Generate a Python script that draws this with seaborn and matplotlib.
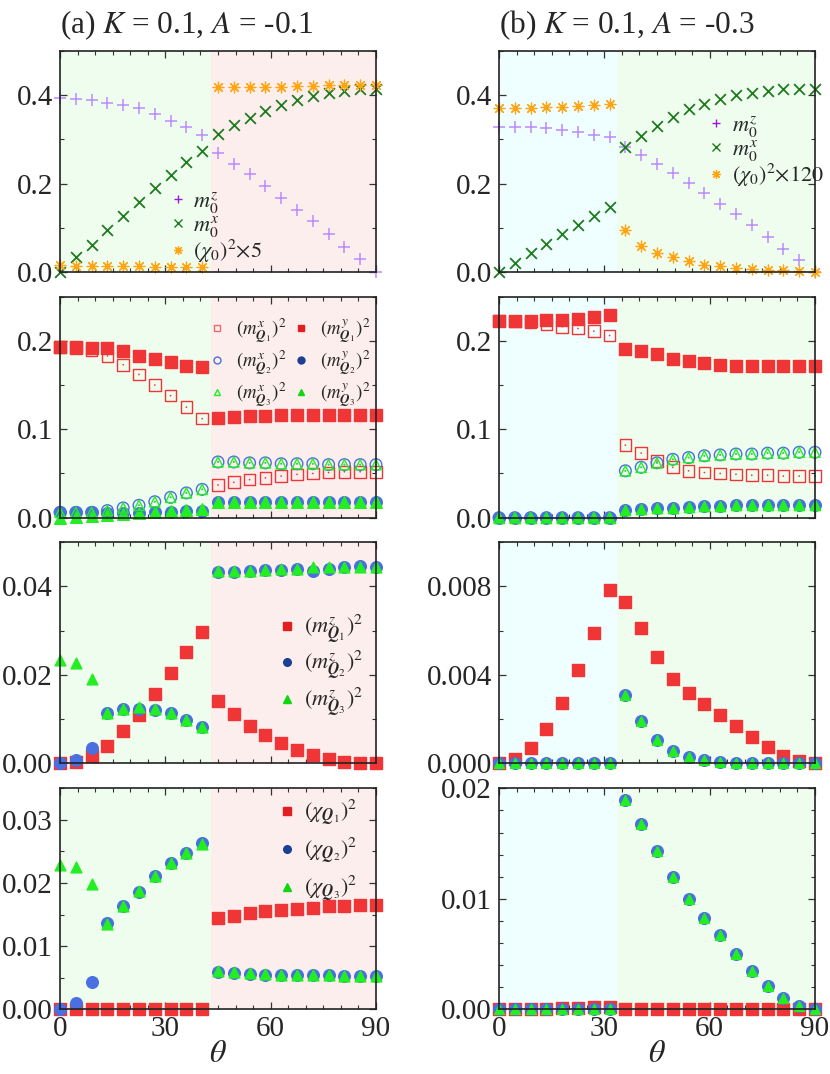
import pandas as pd
import matplotlib
matplotlib.use("Agg")
import matplotlib.pyplot as plt
import seaborn as sns
from matplotlib.lines import Line2D
from matplotlib.ticker import MultipleLocator, FormatStrFormatter

# angle grid (degrees)
theta = [0, 4.5, 9, 13.5, 18, 22.5, 27, 31.5, 36, 40.5, 45,
         49.5, 54, 58.5, 63, 67.5, 72, 76.5, 81, 85.5, 90]

# ---- panel (a): K = 0.1, A = -0.1 ----
a_m0z = [0.394, 0.391, 0.389, 0.383, 0.377, 0.370, 0.357, 0.342, 0.328, 0.309, 0.269,
         0.245, 0.221, 0.194, 0.168, 0.141, 0.115, 0.085, 0.057, 0.030, 0.0]
a_m0x = [0.0, 0.034, 0.062, 0.095, 0.127, 0.159, 0.189, 0.219, 0.248, 0.274, 0.313,
         0.332, 0.349, 0.364, 0.379, 0.389, 0.398, 0.405, 0.410, 0.413, 0.415]
a_chi0 = [0.015, 0.014, 0.014, 0.014, 0.013, 0.013, 0.012, 0.012, 0.011, 0.011, 0.419,
          0.419, 0.419, 0.419, 0.419, 0.420, 0.421, 0.423, 0.424, 0.424, 0.424]

a_mx_q1 = [0.193, 0.192, 0.189, 0.183, 0.173, 0.162, 0.150, 0.138, 0.125, 0.112, 0.037,
           0.040, 0.043, 0.045, 0.047, 0.049, 0.050, 0.051, 0.052, 0.052, 0.052]
a_my_q1 = [0.193, 0.193, 0.192, 0.192, 0.188, 0.183, 0.180, 0.176, 0.172, 0.170, 0.113,
           0.114, 0.115, 0.115, 0.116, 0.116, 0.116, 0.116, 0.116, 0.116, 0.116]
a_mx_q23 = [0.006, 0.006, 0.006, 0.008, 0.011, 0.014, 0.018, 0.023, 0.028, 0.032, 0.063,
            0.063, 0.062, 0.062, 0.061, 0.061, 0.061, 0.060, 0.060, 0.060, 0.060]
a_my_q2 = [0.006, 0.006, 0.006, 0.005, 0.005, 0.005, 0.006, 0.006, 0.007, 0.008, 0.018,
           0.018, 0.018, 0.018, 0.018, 0.018, 0.018, 0.018, 0.018, 0.018, 0.018]
a_my_q3 = [0.0, 0.0004, 0.002, 0.003, 0.004, 0.0055, 0.006, 0.0075, 0.0087, 0.0095, 0.018,
           0.018, 0.018, 0.018, 0.018, 0.018, 0.018, 0.018, 0.018, 0.018, 0.018]

a_mz_q1 = [0.0, 0.0002, 0.0017, 0.0039, 0.0072, 0.0109, 0.0156, 0.0204, 0.0251, 0.0296, 0.0140,
           0.0111, 0.0085, 0.0063, 0.0045, 0.0030, 0.0019, 0.0010, 0.0004, 0.0, 0.0]
a_mz_q2 = [0.0, 0.0008, 0.0034, 0.0113, 0.0122, 0.0122, 0.0121, 0.0113, 0.0098, 0.0082, 0.0432,
           0.0432, 0.0434, 0.0438, 0.0438, 0.0439, 0.0435, 0.0439, 0.0443, 0.0447, 0.0444]
a_mz_q3 = [0.0234, 0.0226, 0.0190, 0.0113, 0.0122, 0.0127, 0.0122, 0.0113, 0.0098, 0.0082, 0.0436,
           0.0436, 0.0436, 0.0438, 0.0439, 0.0440, 0.0445, 0.0445, 0.0445, 0.0444, 0.0444]

a_chi_q1 = [0.0, 0.0, 0.0, 0.0, 0.0, 0.0, 0.0001, 0.0001, 0.0001, 0.0001, 0.0144,
            0.0148, 0.0152, 0.0155, 0.0157, 0.0159, 0.0161, 0.0163, 0.0164, 0.0165, 0.0165]
a_chi_q2 = [0.0, 0.00095, 0.0044, 0.0136, 0.0163, 0.0186, 0.0211, 0.0231, 0.0248, 0.0263, 0.0059,
            0.0057, 0.0056, 0.0055, 0.0054, 0.0054, 0.0054, 0.0054, 0.0053, 0.0053, 0.0053]
a_chi_q3 = [0.0228, 0.0225, 0.0198, 0.0135, 0.0163, 0.0188, 0.0211, 0.0231, 0.0248, 0.0262, 0.0060,
            0.0059, 0.0057, 0.0056, 0.0055, 0.0054, 0.0054, 0.0054, 0.0053, 0.0053, 0.0053]

# ---- panel (b): K = 0.1, A = -0.3 ----
b_m0z = [0.328, 0.328, 0.327, 0.325, 0.321, 0.317, 0.311, 0.306, 0.283, 0.264, 0.245,
         0.224, 0.202, 0.179, 0.155, 0.132, 0.107, 0.079, 0.053, 0.028, 0.0]
b_m0x = [0.0, 0.021, 0.042, 0.064, 0.085, 0.106, 0.127, 0.147, 0.283, 0.307, 0.331,
         0.351, 0.368, 0.381, 0.391, 0.400, 0.405, 0.410, 0.413, 0.414, 0.415]
b_chi0 = [0.372, 0.372, 0.372, 0.374, 0.374, 0.376, 0.377, 0.380, 0.094, 0.059, 0.044,
          0.034, 0.024, 0.017, 0.013, 0.009, 0.007, 0.005, 0.004, 0.002, 0.0]

b_mx_q1 = [0.223, 0.222, 0.221, 0.219, 0.216, 0.214, 0.211, 0.206, 0.082, 0.073, 0.064,
           0.057, 0.053, 0.051, 0.050, 0.049, 0.048, 0.048, 0.047, 0.047, 0.047]
b_my_q1 = [0.223, 0.223, 0.223, 0.2235, 0.224, 0.225, 0.227, 0.229, 0.191, 0.189, 0.185,
           0.180, 0.177, 0.175, 0.173, 0.172, 0.172, 0.172, 0.171, 0.171, 0.171]
b_mx_q23 = [0.0, 0.0, 0.0, 0.0, 0.0, 0.0, 0.0, 0.0, 0.053, 0.057, 0.062,
            0.066, 0.068, 0.070, 0.071, 0.072, 0.072, 0.073, 0.073, 0.074, 0.074]
b_my_q23 = [0.0, 0.0, 0.0, 0.0, 0.0, 0.0, 0.0, 0.0, 0.0087, 0.0095, 0.0106,
            0.0114, 0.0125, 0.0133, 0.0136, 0.0140, 0.0144, 0.0144, 0.0144, 0.0148, 0.0148]

b_mz_q1 = [0.0, 0.00018, 0.00068, 0.00155, 0.00275, 0.0042, 0.0059, 0.00785, 0.0073, 0.0061, 0.0048,
           0.0038, 0.0032, 0.0027, 0.0022, 0.0017, 0.0012, 0.00075, 0.00035, 0.00012, 0.0]
b_mz_q23 = [0.0, 0.0, 0.0, 0.0, 0.0, 0.0, 0.0, 0.0, 0.0031, 0.0019, 0.00106,
            0.00057, 0.0003, 0.00015, 0.00008, 0.00003, 0.0, 0.0, 0.0, 0.0, 0.0]

b_chi_q1 = [0.0, 0.0, 0.0, 0.00003, 0.0001, 0.0001, 0.0002, 0.00025, 0.0, 0.0, 0.0,
            0.0, 0.0, 0.0, 0.0, 0.0, 0.0, 0.0, 0.0, 0.0, 0.0]
b_chi_q23 = [0.0, 0.0, 0.0, 0.0, 0.0, 0.0, 0.0, 0.0, 0.0189, 0.0168, 0.0143,
             0.0120, 0.0100, 0.0083, 0.0067, 0.0050, 0.0035, 0.0021, 0.0010, 0.0003, 0.0]

# phase boundaries (shading)
a_edge = 42.9
b_edge = 33.7

RED, RED_L = "#ef3535", "#e21e1e"
BLUE, BLUE_L = "#4a6fe0", "#1c3f94"
GREEN, GREEN_L = "#22ee22", "#10d810"
PURPLE, PURPLE_L = "#b98cff", "#9a1ad6"
DKGREEN = "#1f7a1f"
ORANGE = "#ffa514"
C_GREEN_BG, C_PINK_BG, C_CYAN_BG = "#effdef", "#fdeeee", "#effefe"

ASTER = (8, 2, 0)

sns.set_style("ticks")
plt.rcParams["font.family"] = ["Liberation Serif", "DejaVu Serif"]
plt.rcParams["mathtext.fontset"] = "stix"


def draw(ax, y, marker, color, s, hollow=False, lw=1.0, z=3):
    df = pd.DataFrame({"theta": theta, "val": y})
    if hollow:
        sns.scatterplot(data=df, x="theta", y="val", ax=ax, marker=marker, s=s, color=color,
                        facecolor="none", edgecolor=color, linewidth=lw, zorder=z,
                        clip_on=False, legend=False)
        sns.scatterplot(data=df, x="theta", y="val", ax=ax, marker="o", s=1.5, color=color,
                        edgecolor="none", linewidth=0, zorder=z, clip_on=False, legend=False)
    else:
        sns.scatterplot(data=df, x="theta", y="val", ax=ax, marker=marker, s=s, color=color,
                        edgecolor=color, linewidth=lw, zorder=z, clip_on=False, legend=False)


def handle(marker, color, ms, hollow=False, mew=1.0):
    return Line2D([], [], linestyle="none", marker=marker, markersize=ms,
                  markerfacecolor="none" if hollow else color, markeredgecolor=color,
                  markeredgewidth=mew)


def style(ax, ylim, major, minor, fmt, edge, left_bg, right_bg, bottom=False):
    ax.set_xlim(0, 90)
    ax.set_ylim(*ylim)
    ax.axvspan(0, edge, color=left_bg, zorder=0, lw=0)
    ax.axvspan(edge, 90, color=right_bg, zorder=0, lw=0)
    ax.xaxis.set_major_locator(MultipleLocator(30))
    ax.xaxis.set_minor_locator(MultipleLocator(5))
    ax.yaxis.set_major_locator(MultipleLocator(major))
    ax.yaxis.set_minor_locator(MultipleLocator(minor))
    ax.yaxis.set_major_formatter(FormatStrFormatter(fmt))
    ax.tick_params(which="both", direction="in", top=True, right=True, color="#333333")
    ax.tick_params(which="major", length=5, width=0.9, labelsize=21, pad=5)
    ax.tick_params(which="minor", length=3, width=0.8)
    ax.tick_params(axis="x", pad=5)
    ax.set_ylabel("")
    if bottom:
        ax.set_xlabel(r"$\theta$", fontsize=23, labelpad=-2)
    else:
        ax.set_xlabel("")
        ax.tick_params(axis="x", labelbottom=False)
    for sp in ax.spines.values():
        sp.set_linewidth(1.2)
        sp.set_color("#222222")
        sp.set_zorder(5)


fig = plt.figure(figsize=(8.3, 10.74), dpi=100)
lefts = [0.0723, 0.6012]
width = 0.3807
bottoms = [0.7467, 0.5180, 0.2893, 0.0602]
height = 0.2058
axs = [[fig.add_axes([l, b, width, height]) for l in lefts] for b in bottoms]

LEG = dict(frameon=False, fontsize=16, handlelength=0.8, handletextpad=0.35,
           borderpad=0, borderaxespad=0, labelspacing=0.35)
LEG1 = dict(LEG, fontsize=16, handletextpad=0.3, labelspacing=-0.05)
LEG2 = dict(LEG, fontsize=13.5, handletextpad=0.6, labelspacing=0.15, ncol=2, columnspacing=0.4)
LEG3 = dict(LEG, labelspacing=0.12)

# ---------- row 1 ----------
for ax, m0z, m0x, chi0, mult in [(axs[0][0], a_m0z, a_m0x, a_chi0, "5"),
                                 (axs[0][1], b_m0z, b_m0x, b_chi0, "120")]:
    draw(ax, m0z, "+", PURPLE, 80, lw=1.1)
    draw(ax, m0x, "x", DKGREEN, 60, lw=1.3)
    draw(ax, chi0, ASTER, ORANGE, 60, lw=0.9)
    hs = [handle("+", PURPLE_L, 6), handle("x", DKGREEN, 6), handle(ASTER, ORANGE, 6.5, mew=0.9)]
    labs = [r"$m_0^z$", r"$m_0^x$", r"$(\chi_0)^2{\times}" + mult + "$"]
    if mult == "5":
        ax.legend(hs, labs, loc="upper left", bbox_to_anchor=(0.345, 0.37), **LEG1)
    else:
        ax.legend(hs, labs, loc="upper left", bbox_to_anchor=(0.66, 0.715), **LEG1)
style(axs[0][0], (0, 0.5), 0.2, 0.1, "%.1f", a_edge, C_GREEN_BG, C_PINK_BG)
style(axs[0][1], (0, 0.5), 0.2, 0.1, "%.1f", b_edge, C_CYAN_BG, C_GREEN_BG)
axs[0][0].set_title("(a) $K$ = 0.1, $A$ = -0.1", loc="left", fontsize=22.5, pad=13)
axs[0][1].set_title("(b) $K$ = 0.1, $A$ = -0.3", loc="left", fontsize=22.5, pad=13)

# ---------- row 2 ----------
ax = axs[1][0]
draw(ax, a_my_q1, "s", RED, 70)
draw(ax, a_mx_q1, "s", RED, 70, hollow=True)
draw(ax, a_my_q2, "o", BLUE, 70)
draw(ax, a_my_q3, "^", GREEN, 70)
draw(ax, a_mx_q23, "o", BLUE, 70, hollow=True)
draw(ax, a_mx_q23, "^", GREEN, 55, hollow=True)
hs = [handle("s", "#f06a6a", 5, hollow=True), handle("o", BLUE, 5, hollow=True),
      handle("^", GREEN, 5, hollow=True),
      handle("s", RED_L, 5), handle("o", BLUE_L, 5), handle("^", GREEN_L, 5)]
labs = [r"$(m^x_{\mathbfit{Q}_1})^2$", r"$(m^x_{\mathbfit{Q}_2})^2$", r"$(m^x_{\mathbfit{Q}_3})^2$",
        r"$(m^y_{\mathbfit{Q}_1})^2$", r"$(m^y_{\mathbfit{Q}_2})^2$", r"$(m^y_{\mathbfit{Q}_3})^2$"]
ax.legend(hs, labs, loc="upper left", bbox_to_anchor=(0.473, 0.91), **LEG2)
style(ax, (0, 0.25), 0.1, 0.05, "%.1f", a_edge, C_GREEN_BG, C_PINK_BG)

ax = axs[1][1]
draw(ax, b_my_q1, "s", RED, 70)
draw(ax, b_mx_q1, "s", RED, 70, hollow=True)
draw(ax, b_my_q23, "o", BLUE, 70)
draw(ax, b_my_q23, "^", GREEN, 55)
draw(ax, b_mx_q23, "o", BLUE, 70, hollow=True)
draw(ax, b_mx_q23, "^", GREEN, 55, hollow=True)
style(ax, (0, 0.25), 0.1, 0.05, "%.1f", b_edge, C_CYAN_BG, C_GREEN_BG)

# ---------- row 3 ----------
ax = axs[2][0]
draw(ax, a_mz_q1, "s", RED, 70)
draw(ax, a_mz_q2, "o", BLUE, 70)
draw(ax, a_mz_q3, "^", GREEN, 60)
hs = [handle("s", RED_L, 5.5), handle("o", BLUE_L, 5.5), handle("^", GREEN_L, 5.5)]
labs = [r"$(m^z_{\mathbfit{Q}_1})^2$", r"$(m^z_{\mathbfit{Q}_2})^2$", r"$(m^z_{\mathbfit{Q}_3})^2$"]
ax.legend(hs, labs, loc="upper left", bbox_to_anchor=(0.69, 0.68), **LEG3)
style(ax, (0, 0.05), 0.02, 0.01, "%.2f", a_edge, C_GREEN_BG, C_PINK_BG)

ax = axs[2][1]
draw(ax, b_mz_q1, "s", RED, 70)
draw(ax, b_mz_q23, "o", BLUE, 70)
draw(ax, b_mz_q23, "^", GREEN, 50)
style(ax, (0, 0.01), 0.004, 0.002, "%.3f", b_edge, C_CYAN_BG, C_GREEN_BG)

# ---------- row 4 ----------
ax = axs[3][0]
draw(ax, a_chi_q1, "s", RED, 70)
draw(ax, a_chi_q2, "o", BLUE, 70)
draw(ax, a_chi_q3, "^", GREEN, 60)
hs = [handle("s", RED_L, 5.5), handle("o", BLUE_L, 5.5), handle("^", GREEN_L, 5.5)]
labs = [r"$(\chi_{\mathbfit{Q}_1})^2$", r"$(\chi_{\mathbfit{Q}_2})^2$", r"$(\chi_{\mathbfit{Q}_3})^2$"]
ax.legend(hs, labs, loc="upper left", bbox_to_anchor=(0.69, 0.96), **LEG)
style(ax, (0, 0.035), 0.01, 0.005, "%.2f", a_edge, C_GREEN_BG, C_PINK_BG, bottom=True)

ax = axs[3][1]
draw(ax, b_chi_q1, "s", RED, 70)
draw(ax, b_chi_q23, "o", BLUE, 70)
draw(ax, b_chi_q23, "^", GREEN, 50)
style(ax, (0, 0.02), 0.01, 0.002, "%.2f", b_edge, C_CYAN_BG, C_GREEN_BG, bottom=True)

fig.savefig("out.png", dpi=100)
